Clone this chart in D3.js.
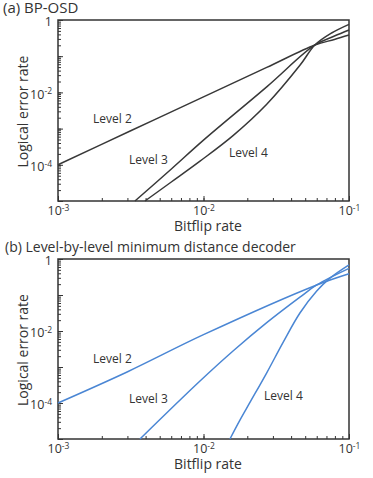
<!DOCTYPE html>
<html>
<head>
<meta charset="utf-8">
<script src="https://cdn.jsdelivr.net/npm/d3@7"></script>
<style>
body { margin: 0; background: #fff; }
svg text { font-family: "Open Sans", sans-serif; fill: #333; }
</style>
</head>
<body>
<svg id="chart" width="373" height="478"></svg>
<script>
// Values (bitflip rate -> logical error rate)

// (a) BP-OSD
var bpLevel2Rate = [0.001, 0.00316, 0.01, 0.0272, 0.0583, 0.0794, 0.1];
var bpLevel2Err  = [1e-4, 8.7e-4, 7.5e-3, 0.049, 0.204, 0.29, 0.385];
var bpLevel3Rate = [0.00338, 0.00604, 0.01, 0.0272, 0.0583, 0.0794, 0.1];
var bpLevel3Err  = [1e-5, 7.8e-5, 4.8e-4, 0.0142, 0.204, 0.36, 0.53];
var bpLevel4Rate = [0.00396, 0.00604, 0.00946, 0.01603, 0.0272, 0.046, 0.0583, 0.0759, 0.1];
var bpLevel4Err  = [1e-5, 3.4e-5, 1.26e-4, 6.5e-4, 4.7e-3, 0.056, 0.204, 0.437, 0.76];

// (b) Level-by-level minimum distance decoder
var mdLevel2Rate = [0.001, 0.00301, 0.01, 0.06, 0.1];
var mdLevel2Err  = [1e-4, 7.4e-4, 7.9e-3, 0.19, 0.39];
var mdLevel3Rate = [0.00366, 0.00946, 0.01603, 0.0272, 0.046, 0.06, 0.1];
var mdLevel3Err  = [1e-5, 4.07e-4, 2.82e-3, 0.017, 0.087, 0.19, 0.55];
var mdLevel4Rate = [0.0152, 0.0178, 0.0209, 0.0272, 0.0354, 0.046, 0.06, 0.074, 0.1];
var mdLevel4Err  = [1e-5, 3.34e-5, 1.05e-4, 6.9e-4, 5.0e-3, 0.0316, 0.129, 0.295, 0.69];

var xDecades = [1e-3, 1e-2, 1e-1];
var yDecades = [1e-5, 1e-4, 1e-3, 1e-2, 1e-1, 1];
var yLabelled = [1e-4, 1e-2, 1];

function zip(xs, ys) {
    return xs.map(function(v, i) { return [v, ys[i]]; });
}

// turns a decade value into "1" or "10" with a raised exponent
function decadeLabel(sel) {
    sel.each(function(d) {
        var t = d3.select(this).text(null);
        var e = Math.round(Math.log10(d));
        if (e === 0) { t.text("1"); return; }
        t.append("tspan").text("10");
        t.append("tspan").attr("dy", "-0.5em").attr("font-size", "8.5px").text(String(e));
    });
}

var svg = d3.select("#chart");
var left = 58, right = 349;

function drawPanel(opt) {
    var g = svg.append("g");
    var x = d3.scaleLog().domain([1e-3, 1e-1]).range([left, right]);
    var y = d3.scaleLog().domain([1e-5, 1]).range([opt.bottom, opt.top]);

    // minor ticks, pointing inward
    g.append("g")
        .attr("transform", "translate(0," + opt.bottom + ")")
        .attr("color", "#333")
        .call(d3.axisBottom(x).tickValues(x.ticks()).tickSize(-3))
        .call(function(a) { a.select(".domain").remove(); a.selectAll("text").remove(); });
    g.append("g")
        .attr("transform", "translate(" + left + ",0)")
        .attr("color", "#333")
        .call(d3.axisLeft(y).tickValues(y.ticks()).tickSize(-3))
        .call(function(a) { a.select(".domain").remove(); a.selectAll("text").remove(); });

    // major ticks with labels
    var xa = g.append("g")
        .attr("transform", "translate(0," + opt.bottom + ")")
        .attr("color", "#333")
        .call(d3.axisBottom(x).tickValues(xDecades).tickSize(-5).tickPadding(5));
    xa.select(".domain").remove();
    xa.attr("font-size", 12.5).selectAll(".tick text").call(decadeLabel);

    var ya = g.append("g")
        .attr("transform", "translate(" + left + ",0)")
        .attr("color", "#333")
        .call(d3.axisLeft(y).tickValues(yDecades).tickSize(-5).tickPadding(6));
    ya.select(".domain").remove();
    ya.attr("font-size", 12.5).selectAll(".tick text")
        .filter(function(d) { return yLabelled.indexOf(d) < 0; }).remove();
    ya.selectAll(".tick text").attr("dy", "0.45em").call(decadeLabel);

    // frame
    g.append("rect")
        .attr("x", left).attr("y", opt.top)
        .attr("width", right - left).attr("height", opt.bottom - opt.top)
        .attr("fill", "none").attr("stroke", "#333").attr("stroke-width", 1.5);

    var line = d3.line()
        .x(function(d) { return x(d[0]); })
        .y(function(d) { return y(d[1]); })
        .curve(d3.curveCatmullRom.alpha(0.5));

    g.selectAll("path.curve")
        .data(opt.series)
        .enter().append("path")
        .attr("class", "curve")
        .attr("d", line)
        .attr("fill", "none")
        .attr("stroke", opt.colour)
        .attr("stroke-width", 1.5);

    // curve labels
    opt.labels.forEach(function(l) {
        g.append("text").attr("x", l[1]).attr("y", opt.top + l[2])
            .attr("font-size", 12).text(l[0]);
    });

    g.append("text")
        .attr("x", opt.titleX).attr("y", opt.top - 7)
        .attr("font-size", opt.titleSize)
        .text(opt.title);

    g.append("text")
        .attr("x", 208).attr("y", opt.bottom + 30)
        .attr("text-anchor", "middle")
        .attr("font-size", 14)
        .text("Bitflip rate");

    g.append("text")
        .attr("transform", "translate(28," + ((opt.top + opt.bottom) / 2 + 1) + ") rotate(-90)")
        .attr("text-anchor", "middle")
        .attr("font-size", 14)
        .text("Logical error rate");
}

drawPanel({
    top: 20, bottom: 201,
    colour: "#383838",
    title: "(a) BP-OSD", titleX: 3, titleSize: 15,
    series: [zip(bpLevel2Rate, bpLevel2Err), zip(bpLevel3Rate, bpLevel3Err), zip(bpLevel4Rate, bpLevel4Err)],
    labels: [["Level 2", 93, 103], ["Level 3", 129, 144], ["Level 4", 229, 137]]
});

drawPanel({
    top: 259, bottom: 439,
    colour: "#4a86d4",
    title: "(b) Level-by-level minimum distance decoder", titleX: 5, titleSize: 14,
    series: [zip(mdLevel2Rate, mdLevel2Err), zip(mdLevel3Rate, mdLevel3Err), zip(mdLevel4Rate, mdLevel4Err)],
    labels: [["Level 2", 93, 104], ["Level 3", 129, 144], ["Level 4", 264, 141]]
});
</script>
</body>
</html>
